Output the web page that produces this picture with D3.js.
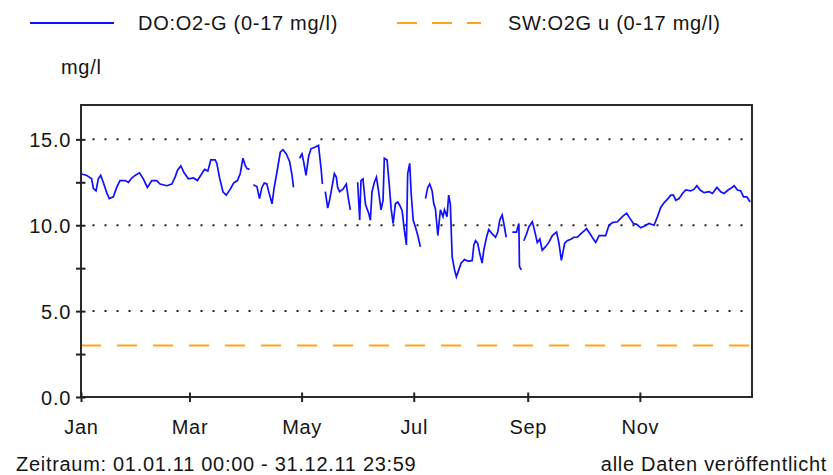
<!DOCTYPE html>
<html>
<head>
<meta charset="utf-8">
<script src="https://cdn.jsdelivr.net/npm/d3@7"></script>
<style>
  body { margin: 0; background: #fff; }
  text { font-family: "Liberation Sans", Arial, sans-serif; font-size: 20px; fill: #151515; letter-spacing: 0.7px; }
</style>
</head>
<body>
<div id="chart"></div>
<script>
// values: day offset from 01.01.2011 and O2 in mg/l (null = gap)
var dayOfYear = [
  0, 3.1, 5.8, 6.7, 8.2, 9.4, 10.7, 12.1, 14.0, 15.4, 17.6, 19.4, 21.2, 24.0, 25.8, 27.6, 29.4, 31.8, 33.9, 36.1,
  38.5, 41.2, 43.0, 46.7, 49.4, 51.2, 52.5, 54.3, 56.1, 58.4, 61.2, 63.3, 65.7, 67.2, 69.0, 70.6, 73.0, 73.9, 75.3, 77.2,
  79.0, 81.2, 83.0, 85.1, 86.6, 88.1, 89.3, 90.3, 91.7, 93,
  93.8, 95.7, 97.1, 98.4, 99.7, 101.1, 102.0, 103.9, 105.1, 106.6, 108.4, 109.9, 111.7, 113.5, 114.8, 115.6, 117,
  118.9, 120.2, 121.1, 122.4, 123.8, 125.1, 127.5, 129.2, 130.6, 131.3, 132,
  132.9, 134.2, 135.2, 136.5, 137.8, 138.9, 139.6, 140.7, 142.5, 144.3, 145.6, 146.5, 148,
  150.5, 151.6, 152.3, 153.4, 154.7, 155.6, 156.5, 157.4, 158.3, 159.6, 160.7, 161.9, 163.2, 164.3, 165.0, 166.5, 167.8,
  168.7, 169.8, 171.0, 172.3, 173.4, 174.7, 175.9, 177.0, 177.7, 178.8, 179.6, 180.7, 181.9, 183.2, 184.6, 186,
  187.4, 188.6, 189.7, 191.0, 191.9, 192.8, 194.1, 195.5, 196.9, 197.7, 199.1, 200.0, 200.9, 201.9, 203.2, 204.2, 205.5,
  206.8, 208.6, 210.9, 212.8, 213.7, 214.6, 215.8, 216.9, 218.2, 219.1, 220.6, 221.8, 223.7, 225.5, 226.7, 227.8, 229.1,
  230.0, 231.3, 233,
  234.6, 236.9, 237.6, 238.2, 238.5, 239.5, 240.3,
  240.9, 242.4, 243.6, 245.5, 246.7, 248.2, 249.6, 250.9, 252.7, 254.5, 256.4, 258.7, 260.0, 261.3, 262.4, 263.1, 264.5,
  266.7, 268.1, 270.0, 271.8, 274.0, 275.0, 276.9, 278.7, 280.0, 281.8, 285.4, 287.2, 289.1, 291.8, 294.5, 296.8, 298.6,
  300.5, 302.3, 304.5, 306.6, 309.0, 311.7, 313.6, 315.4, 317.5, 319.3, 320.8, 322.3, 323.5, 325.3, 327.2, 329.0, 331.7,
  333.5, 335.0, 336.8, 338.9, 341.7, 343.5, 345.9, 348.0, 349.8, 352.0, 353.5, 355.3, 357.1, 358.9, 360.4, 362.2, 364.0
];
var o2Values = [
  13.0, 12.9, 12.7, 12.15, 12.0, 12.7, 12.9, 12.5, 11.9, 11.55, 11.65, 12.2, 12.6, 12.6, 12.5, 12.75, 12.9, 13.05, 12.7, 12.2,
  12.6, 12.6, 12.4, 12.3, 12.4, 12.8, 13.2, 13.45, 13.05, 12.7, 12.75, 12.6, 13.0, 13.25, 13.15, 13.8, 13.8, 13.6, 12.8, 11.95,
  11.75, 12.1, 12.45, 12.6, 13.0, 13.9, 13.5, 13.3, 13.25, null,
  12.35, 12.25, 11.55, 12.2, 12.45, 12.4, 12.0, 11.25, 12.2, 13.1, 14.25, 14.4, 14.15, 13.7, 12.9, 12.2, null,
  13.9, 14.15, 13.7, 12.9, 14.0, 14.45, 14.55, 14.65, 13.3, 12.4, null,
  11.95, 11.0, 11.45, 12.2, 13.0, 12.8, 12.2, 11.95, 12.1, 12.4, 11.45, 10.9, null,
  12.5, 10.3, 12.6, 12.7, 11.25, 10.95, 10.7, 10.3, 11.95, 12.5, 12.8, 11.95, 10.9, 11.45, 13.9, 13.8, 12.2,
  10.95, 10.1, 11.25, 11.35, 11.15, 10.85, 9.7, 8.85, 13.0, 13.6, 11.85, 10.3, 9.9, 9.4, 8.75, null,
  11.55, 12.2, 12.4, 12.0, 11.25, 10.95, 9.4, 10.9, 10.5, 10.9, 10.5, 11.75, 11.25, 8.15, 7.4, 7.0, 7.4,
  7.8, 8.0, 7.9, 7.95, 8.85, 9.1, 8.95, 8.35, 7.8, 8.55, 9.3, 9.75, 9.5, 9.3, 9.6, 10.3, 10.6,
  10.1, 9.3, null,
  9.6, 9.6, 9.9, 10.1, 7.6, 7.4, null,
  9.1, 9.5, 9.9, 10.2, 9.7, 9.0, 9.2, 8.55, 8.75, 9.0, 9.4, 9.6, 8.95, 7.95, 8.55, 8.95, 9.1,
  9.2, 9.3, 9.3, 9.5, 9.7, 9.8, 9.5, 9.2, 9.0, 9.4, 9.4, 10.0, 10.15, 10.2, 10.5, 10.7, 10.4,
  10.1, 10.05, 9.85, 9.95, 10.1, 10.0, 10.5, 11.05, 11.35, 11.55, 11.75, 11.75, 11.45, 11.55, 11.85, 12.05, 12.0,
  12.1, 12.3, 12.05, 11.9, 11.95, 11.85, 12.2, 11.95, 11.85, 12.05, 12.15, 12.3, 12.05, 12.0, 11.65, 11.65, 11.35
];
var limitValue = 3.0;
var yTicks = [0, 2.5, 5, 7.5, 10, 12.5, 15];
var gridValues = [5, 10, 15];
var monthTicks = ["2011-01-01", "2011-03-01", "2011-05-01", "2011-07-01", "2011-09-01", "2011-11-01"];
var legendLabels = ["DO:O2-G (0-17 mg/l)", "SW:O2G u (0-17 mg/l)"];
var unitLabel = "mg/l";
var periodText = "Zeitraum: 01.01.11 00:00 - 31.12.11 23:59";
var statusText = "alle Daten veröffentlicht";

var svgWidth = 833, svgHeight = 475;
var margin = { top: 105, right: 81, bottom: 78, left: 81 };
var width = svgWidth - margin.left - margin.right;
var height = svgHeight - margin.top - margin.bottom;

var svg = d3.select("#chart").append("svg")
  .attr("width", svgWidth)
  .attr("height", svgHeight);

var chartGroup = svg.append("g").attr("transform", `translate(${margin.left}, ${margin.top})`);

var start = new Date(2011, 0, 1), end = new Date(2012, 0, 1);
var xTimeScale = d3.scaleTime().domain([start, end]).range([0, width]);
var yLinearScale = d3.scaleLinear().domain([0, 17]).range([height, 0]);

var series = dayOfYear.map(function(d, i) {
  return { date: new Date(start.getTime() + d * 864e5), value: o2Values[i] };
});

// dotted grid lines
chartGroup.selectAll(".grid").data(gridValues).enter().append("line")
  .attr("x1", 11.5).attr("x2", width - 8)
  .attr("y1", d => yLinearScale(d)).attr("y2", d => yLinearScale(d))
  .attr("stroke", "#222").attr("stroke-width", 2)
  .attr("stroke-dasharray", "2,10");

// limit line
chartGroup.append("line")
  .attr("x1", 0).attr("x2", width)
  .attr("y1", yLinearScale(limitValue)).attr("y2", yLinearScale(limitValue))
  .attr("stroke", "#ffa31a").attr("stroke-width", 2)
  .attr("stroke-dasharray", "20,16");

// data line
var line = d3.line()
  .defined(d => d.value != null)
  .x(d => xTimeScale(d.date))
  .y(d => yLinearScale(d.value));

chartGroup.append("path")
  .datum(series)
  .attr("fill", "none")
  .attr("stroke", "#1010ff")
  .attr("stroke-width", 1.7)
  .attr("d", line);

// frame
chartGroup.append("rect")
  .attr("width", width).attr("height", height)
  .attr("fill", "none").attr("stroke", "#2a2a2a").attr("stroke-width", 2);

// axes
var leftAxis = d3.axisLeft(yLinearScale)
  .tickValues(yTicks)
  .tickFormat(d => d % 5 === 0 ? d.toFixed(1) : "");
var yAxis = chartGroup.append("g").call(leftAxis);
yAxis.select(".domain").remove();
yAxis.selectAll(".tick line").attr("x1", -5).attr("x2", 4.5).attr("stroke", "#222").attr("stroke-width", 2);
yAxis.selectAll(".tick text").attr("x", -10).attr("dy", "0.36em")
  .style("font-size", "20px").style("font-family", "Liberation Sans, Arial, sans-serif").attr("fill", "#151515");

var bottomAxis = d3.axisBottom(xTimeScale)
  .tickValues(monthTicks.map(d => d3.timeParse("%Y-%m-%d")(d)))
  .tickFormat(d3.timeFormat("%b"));
var xAxis = chartGroup.append("g").attr("transform", `translate(0, ${height})`).call(bottomAxis);
xAxis.select(".domain").remove();
xAxis.selectAll(".tick line").attr("y1", -4.5).attr("y2", 5).attr("stroke", "#222").attr("stroke-width", 2);
xAxis.selectAll(".tick text").attr("y", 37).attr("dy", 0)
  .style("font-size", "20px").style("font-family", "Liberation Sans, Arial, sans-serif").attr("fill", "#151515");

// legend
var legendGroup = svg.append("g");
legendGroup.append("line")
  .attr("x1", 30).attr("x2", 114).attr("y1", 23).attr("y2", 23)
  .attr("stroke", "#1010ff").attr("stroke-width", 2);
legendGroup.append("text").attr("x", 138).attr("y", 30).text(legendLabels[0]);
legendGroup.append("line")
  .attr("x1", 397).attr("x2", 481).attr("y1", 23).attr("y2", 23)
  .attr("stroke", "#ffa31a").attr("stroke-width", 2)
  .attr("stroke-dasharray", "20,15");
legendGroup.append("text").attr("x", 508).attr("y", 30).text(legendLabels[1]);

// unit and footer
svg.append("text").attr("x", 61).attr("y", 74).text(unitLabel);
svg.append("text").attr("x", 16).attr("y", 471).text(periodText);
svg.append("text").attr("x", 827).attr("y", 471).attr("text-anchor", "end").text(statusText);
</script>
</body>
</html>
